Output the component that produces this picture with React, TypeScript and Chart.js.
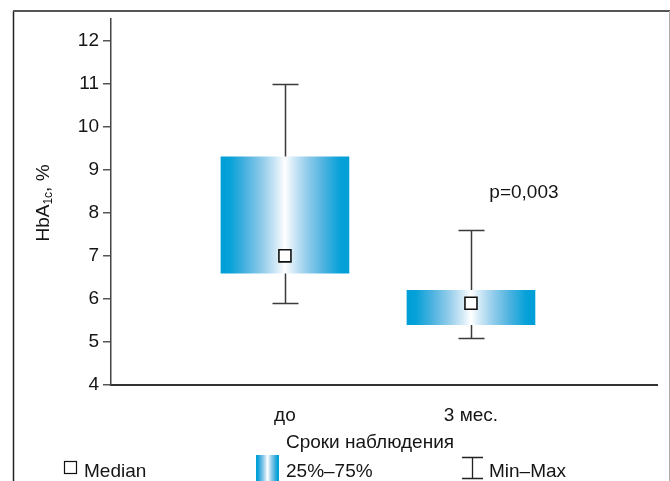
import React, { useEffect, useRef } from 'react';
import { Chart, registerables } from 'chart.js';

Chart.register(...registerables);

// ---- data ----
const categories = ['до', '3 мес.'];
const catPositions = [1, 2];
const q1 = [6.6, 5.4];
const q3 = [9.3, 6.2];
const medians = [7.0, 5.9];
const mins = [5.9, 5.1];
const maxs = [11.0, 7.6];
const yTicks = [4, 5, 6, 7, 8, 9, 10, 11, 12];
const pValueText = 'p=0,003';
const legendLabels = ['Median', '25%–75%', 'Min–Max'];
const yTitleParts = ['HbA', '1c', ', %'];
const xTitle = 'Сроки наблюдения';

const FONT = "'Liberation Sans', Arial, Helvetica, sans-serif";
const TEXT = '#151515';
const BAR_W = 128;
const BLUE = '#00a0d8';

function makeGradient(ctx: CanvasRenderingContext2D, x0: number, x1: number) {
  const g = ctx.createLinearGradient(x0, 0, x1, 0);
  const stops: [number, string][] = [
    [0, '#009fd7'],
    [0.07, '#06a1d8'],
    [0.2, '#4eb3e0'],
    [0.33, '#94cdeb'],
    [0.44, '#d6ebf7'],
    [0.5, '#ffffff'],
  ];
  stops.forEach(([p, c]) => g.addColorStop(p, c));
  stops.slice(0, -1).reverse().forEach(([p, c]) => g.addColorStop(1 - p, c));
  return g;
}

const decorPlugin = {
  id: 'decor',
  beforeDatasetsDraw(chart: any) {
    const { ctx, scales } = chart;
    const x = scales.x;
    const y = scales.y;
    ctx.save();
    ctx.strokeStyle = '#3a3a3a';
    ctx.lineWidth = 1.5;
    categories.forEach((_, i) => {
      const px = Math.round(x.getPixelForValue(catPositions[i])) + 0.5;
      const yMax = Math.round(y.getPixelForValue(maxs[i])) + 0.5;
      const yMin = Math.round(y.getPixelForValue(mins[i])) + 0.5;
      ctx.beginPath();
      ctx.moveTo(px, yMax);
      ctx.lineTo(px, yMin);
      ctx.moveTo(px - 13, yMax);
      ctx.lineTo(px + 13, yMax);
      ctx.moveTo(px - 13, yMin);
      ctx.lineTo(px + 13, yMin);
      ctx.stroke();
    });
    ctx.restore();
  },
  afterDraw(chart: any) {
    const { ctx, scales } = chart;
    const x = scales.x;
    const y = scales.y;
    ctx.save();

    // outer frame
    ctx.lineWidth = 1.5;
    ctx.strokeStyle = '#222';
    ctx.beginPath();
    ctx.moveTo(13.5, 11);
    ctx.lineTo(13.5, 481);
    ctx.stroke();
    ctx.lineWidth = 2;
    ctx.strokeStyle = '#555';
    ctx.beginPath();
    ctx.moveTo(13, 11);
    ctx.lineTo(670, 11);
    ctx.stroke();
    ctx.lineWidth = 1;
    ctx.strokeStyle = '#aaa';
    ctx.beginPath();
    ctx.moveTo(669.5, 11);
    ctx.lineTo(669.5, 481);
    ctx.stroke();

    ctx.fillStyle = TEXT;

    // y title (rotated, with subscript)
    const big = `19px ${FONT}`;
    const small = `12px ${FONT}`;
    ctx.font = big;
    const w0 = ctx.measureText(yTitleParts[0]).width;
    const w2 = ctx.measureText(yTitleParts[2]).width;
    ctx.font = small;
    const w1 = ctx.measureText(yTitleParts[1]).width;
    const total = w0 + w1 + w2;
    ctx.save();
    ctx.translate(49, 203);
    ctx.rotate(-Math.PI / 2);
    ctx.textBaseline = 'alphabetic';
    ctx.textAlign = 'left';
    let u = -total / 2;
    ctx.font = big;
    ctx.fillText(yTitleParts[0], u, 0);
    u += w0;
    ctx.font = small;
    ctx.fillText(yTitleParts[1], u, 3);
    u += w1;
    ctx.font = big;
    ctx.fillText(yTitleParts[2], u, 0);
    ctx.restore();

    // x title
    ctx.font = big;
    ctx.textAlign = 'center';
    ctx.textBaseline = 'alphabetic';
    ctx.fillText(xTitle, 370, 448);

    // p-value annotation
    const pX = x.getPixelForValue(catPositions[1]) + 53;
    const pY = y.getPixelForValue(8.35);
    ctx.fillText(pValueText, pX, pY);

    // legend
    ctx.textAlign = 'left';
    ctx.lineWidth = 1.2;
    ctx.strokeStyle = '#111';
    ctx.fillStyle = '#fff';
    ctx.fillRect(64.5, 461.5, 12, 12);
    ctx.strokeRect(64.5, 461.5, 12, 12);
    ctx.fillStyle = TEXT;
    ctx.fillText(legendLabels[0], 84, 477);
    ctx.fillStyle = makeGradient(ctx, 256, 279);
    ctx.fillRect(256, 455, 23, 26);
    ctx.fillStyle = TEXT;
    ctx.fillText(legendLabels[1], 286, 477);
    ctx.strokeStyle = '#222';
    ctx.lineWidth = 1.3;
    ctx.beginPath();
    ctx.moveTo(472.5, 457);
    ctx.lineTo(472.5, 478);
    ctx.moveTo(462, 457.5);
    ctx.lineTo(483, 457.5);
    ctx.moveTo(462, 478.5);
    ctx.lineTo(483, 478.5);
    ctx.stroke();
    ctx.fillText(legendLabels[2], 489, 477);

    ctx.restore();
  },
};

export default function App() {
  const ref = useRef<HTMLCanvasElement | null>(null);

  useEffect(() => {
    if (!ref.current) return;
    const chart = new Chart(ref.current, {
      type: 'bar',
      data: {
        datasets: [
          {
            type: 'scatter',
            label: legendLabels[0],
            data: categories.map((_, i) => ({ x: catPositions[i], y: medians[i] })),
            pointStyle: 'rect',
            pointRadius: 8.5,
            pointBorderWidth: 1.6,
            pointBorderColor: '#111',
            pointBackgroundColor: '#fff',
            order: 0,
          } as any,
          {
            type: 'bar',
            label: legendLabels[1],
            data: categories.map((_, i) => ({ x: catPositions[i], y: [q1[i], q3[i]] })) as any,
            barThickness: BAR_W,
            borderWidth: 0,
            borderSkipped: false,
            backgroundColor: (c: any) => {
              const ch = c.chart;
              const xs = ch && ch.scales && ch.scales.x;
              if (!xs || !c.raw) return BLUE;
              const cx = xs.getPixelForValue(c.raw.x);
              if (!Number.isFinite(cx)) return BLUE;
              return makeGradient(ch.ctx, cx - BAR_W / 2, cx + BAR_W / 2);
            },
            order: 1,
          } as any,
        ],
      },
      options: {
        responsive: false,
        devicePixelRatio: 1,
        animation: false,
        layout: { padding: { top: 19, right: 13, left: 0, bottom: 0 } },
        plugins: {
          legend: { display: false },
          tooltip: { enabled: false },
        },
        scales: {
          x: {
            type: 'linear',
            min: 0.065,
            max: 3.0,
            offset: false,
            afterBuildTicks: (s: any) => {
              s.ticks = catPositions.map((v) => ({ value: v }));
            },
            afterFit: (s: any) => {
              s.height = 96;
            },
            ticks: {
              callback: (v: any) => {
                const i = catPositions.indexOf(Number(v));
                return i >= 0 ? categories[i] : '';
              },
              font: { family: FONT, size: 19 },
              color: TEXT,
              padding: 19,
              maxRotation: 0,
              autoSkip: false,
            },
            grid: { display: false, drawTicks: false, offset: false },
            border: { display: true, color: '#333', width: 2 },
          },
          y: {
            type: 'linear',
            min: 4,
            max: 12.5,
            afterBuildTicks: (s: any) => {
              s.ticks = yTicks.map((v) => ({ value: v }));
            },
            afterFit: (s: any) => {
              s.width = 111;
            },
            ticks: {
              font: { family: FONT, size: 19 },
              color: TEXT,
              padding: 4,
            },
            grid: {
              drawOnChartArea: false,
              drawTicks: true,
              tickLength: 8,
              color: '#555',
              lineWidth: 1.5,
            },
            border: { display: true, color: '#444', width: 1.5 },
          },
        },
      } as any,
      plugins: [decorPlugin],
    });
    return () => chart.destroy();
  }, []);

  return (
    <div style={{ position: 'absolute', left: 0, top: 0, width: 670, height: 481, background: '#fff' }}>
      <canvas ref={ref} width={670} height={481} style={{ display: 'block' }} />
    </div>
  );
}
